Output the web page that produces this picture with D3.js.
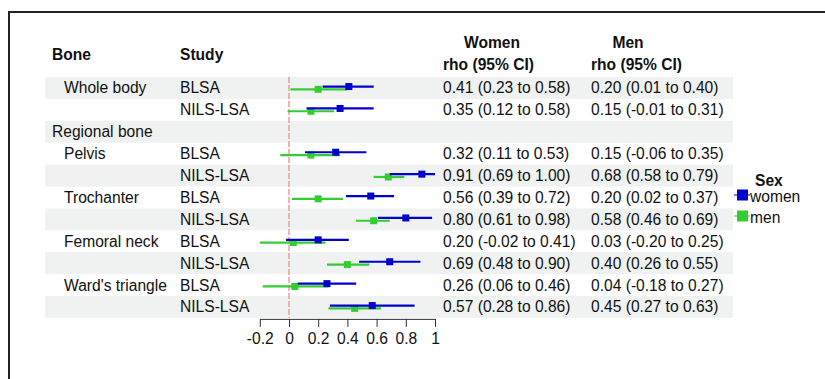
<!DOCTYPE html>
<html><head><meta charset="utf-8">
<script src="https://cdn.jsdelivr.net/npm/d3@7"></script>
<style>body{margin:0;background:#fff}svg{display:block}text{font-family:"Liberation Sans",Arial,sans-serif;}</style>
</head><body><svg id="c" width="825" height="379"></svg>
<script>
const bones = ["Whole body","","Regional bone","Pelvis","","Trochanter","","Femoral neck","","Ward's triangle",""];
const boneIndent = [true,false,false,true,false,true,false,true,false,true,false];
const studies = ["BLSA","NILS-LSA","","BLSA","NILS-LSA","BLSA","NILS-LSA","BLSA","NILS-LSA","BLSA","NILS-LSA"];
const womenRho = [0.41,0.35,null,0.32,0.91,0.56,0.80,0.20,0.69,0.26,0.57];
const womenLo  = [0.23,0.12,null,0.11,0.69,0.39,0.61,-0.02,0.48,0.06,0.28];
const womenHi  = [0.58,0.58,null,0.53,1.00,0.72,0.98,0.41,0.90,0.46,0.86];
const menRho = [0.20,0.15,null,0.15,0.68,0.20,0.58,0.03,0.40,0.04,0.45];
const menLo  = [0.01,-0.01,null,-0.06,0.58,0.02,0.46,-0.20,0.26,-0.18,0.27];
const menHi  = [0.40,0.31,null,0.35,0.79,0.37,0.69,0.25,0.55,0.27,0.63];
const tickValues = [-0.2,0,0.2,0.4,0.6,0.8,1];
const tickLabels = ["-0.2","0","0.2","0.4","0.6","0.8","1"];
const sexLabels = ["women","men"];
const sexColors = ["#0000cc","#33cc33"];

const svg = d3.select("#c");
const fmt = v => v.toFixed(2);
const rowTop = 77, rowH = 21.9;
const y = d3.scaleBand().domain(d3.range(studies.length)).range([rowTop, rowTop + rowH*studies.length]).padding(0);
const x = d3.scaleLinear().domain([-0.2,1]).range([259.8,435]);
const FS = "15.6px";

// frame
svg.append("path").attr("d","M9,379 V12 H825").attr("fill","none").attr("stroke","#222").attr("stroke-width",2);

// bands
svg.selectAll("rect.band").data(d3.range(studies.length).filter(i => i%2===0)).join("rect")
  .attr("x",45).attr("width",688).attr("y",i=>y(i)).attr("height",y.bandwidth()).attr("fill","#eff2f1");

// headers
const hdr = svg.append("g").attr("font-weight","bold").attr("font-size",FS).attr("fill","#111");
hdr.append("text").attr("x",52).attr("y",60).text("Bone");
hdr.append("text").attr("x",180).attr("y",60).text("Study");
hdr.append("text").attr("x",492).attr("y",48).attr("text-anchor","middle").text("Women");
hdr.append("text").attr("x",628).attr("y",48).attr("text-anchor","middle").text("Men");
hdr.append("text").attr("x",443).attr("y",70).text("rho (95% CI)");
hdr.append("text").attr("x",591).attr("y",70).text("rho (95% CI)");

const cy = i => y(i) + y.bandwidth()/2;
const tg = svg.append("g").attr("font-size",FS).attr("fill","#111");
bones.forEach((b,i)=>{ if(b) tg.append("text").attr("x",boneIndent[i]?64:52).attr("y",cy(i)+5.5).text(b); });
studies.forEach((s,i)=>{ if(s) tg.append("text").attr("x",180).attr("y",cy(i)+5.5).text(s); });
studies.forEach((s,i)=>{
  if(womenRho[i]===null) return;
  tg.append("text").attr("x",443).attr("y",cy(i)+5.5).text(`${fmt(womenRho[i])} (${fmt(womenLo[i])} to ${fmt(womenHi[i])})`);
  tg.append("text").attr("x",591).attr("y",cy(i)+5.5).text(`${fmt(menRho[i])} (${fmt(menLo[i])} to ${fmt(menHi[i])})`);
});

// zero line
svg.append("line").attr("x1",x(0)).attr("x2",x(0)).attr("y1",rowTop).attr("y2",rowTop+rowH*studies.length)
  .attr("stroke","#f29a9a").attr("stroke-width",1.5).attr("stroke-dasharray","6,2");

// marks (men first, women on top)
const series = [
  {rho:menRho, lo:menLo, hi:menHi, color:sexColors[1], dy:1.4},
  {rho:womenRho, lo:womenLo, hi:womenHi, color:sexColors[0], dy:-1.4}
];
series.forEach(s=>{
  const idx = d3.range(studies.length).filter(i=>s.rho[i]!==null);
  const g = svg.append("g");
  g.selectAll("line").data(idx).join("line")
    .attr("x1",i=>x(s.lo[i])).attr("x2",i=>x(s.hi[i])).attr("y1",i=>cy(i)+s.dy).attr("y2",i=>cy(i)+s.dy)
    .attr("stroke",s.color).attr("stroke-width",2.2);
  g.selectAll("rect").data(idx).join("rect")
    .attr("x",i=>x(s.rho[i])-3.5).attr("y",i=>cy(i)+s.dy-3.5).attr("width",7).attr("height",7).attr("fill",s.color);
});

// axis
const axis = d3.axisBottom(x).tickValues(tickValues).tickFormat((d,i)=>tickLabels[i]).tickSize(8).tickSizeOuter(0).tickPadding(6);
const ag = svg.append("g").attr("transform",`translate(0,${rowTop+rowH*studies.length+1})`).call(axis);
ag.selectAll("path,line").attr("stroke","#333");
ag.selectAll("text").attr("font-size",FS).attr("fill","#111").attr("font-family","Liberation Sans, Arial, sans-serif");

// legend
const lg = svg.append("g").attr("font-size",FS).attr("fill","#111");
lg.append("text").attr("x",755).attr("y",186).attr("font-weight","bold").text("Sex");
sexLabels.forEach((l,i)=>{
  const yy = 195 + i*21;
  lg.append("line").attr("x1",734).attr("x2",750).attr("y1",yy).attr("y2",yy).attr("stroke",sexColors[i]).attr("stroke-width",1);
  lg.append("rect").attr("x",737).attr("y",yy-5.5).attr("width",11).attr("height",11).attr("fill",sexColors[i]);
  lg.append("text").attr("x",750).attr("y",yy+7).text(l);
});
</script></body></html>
